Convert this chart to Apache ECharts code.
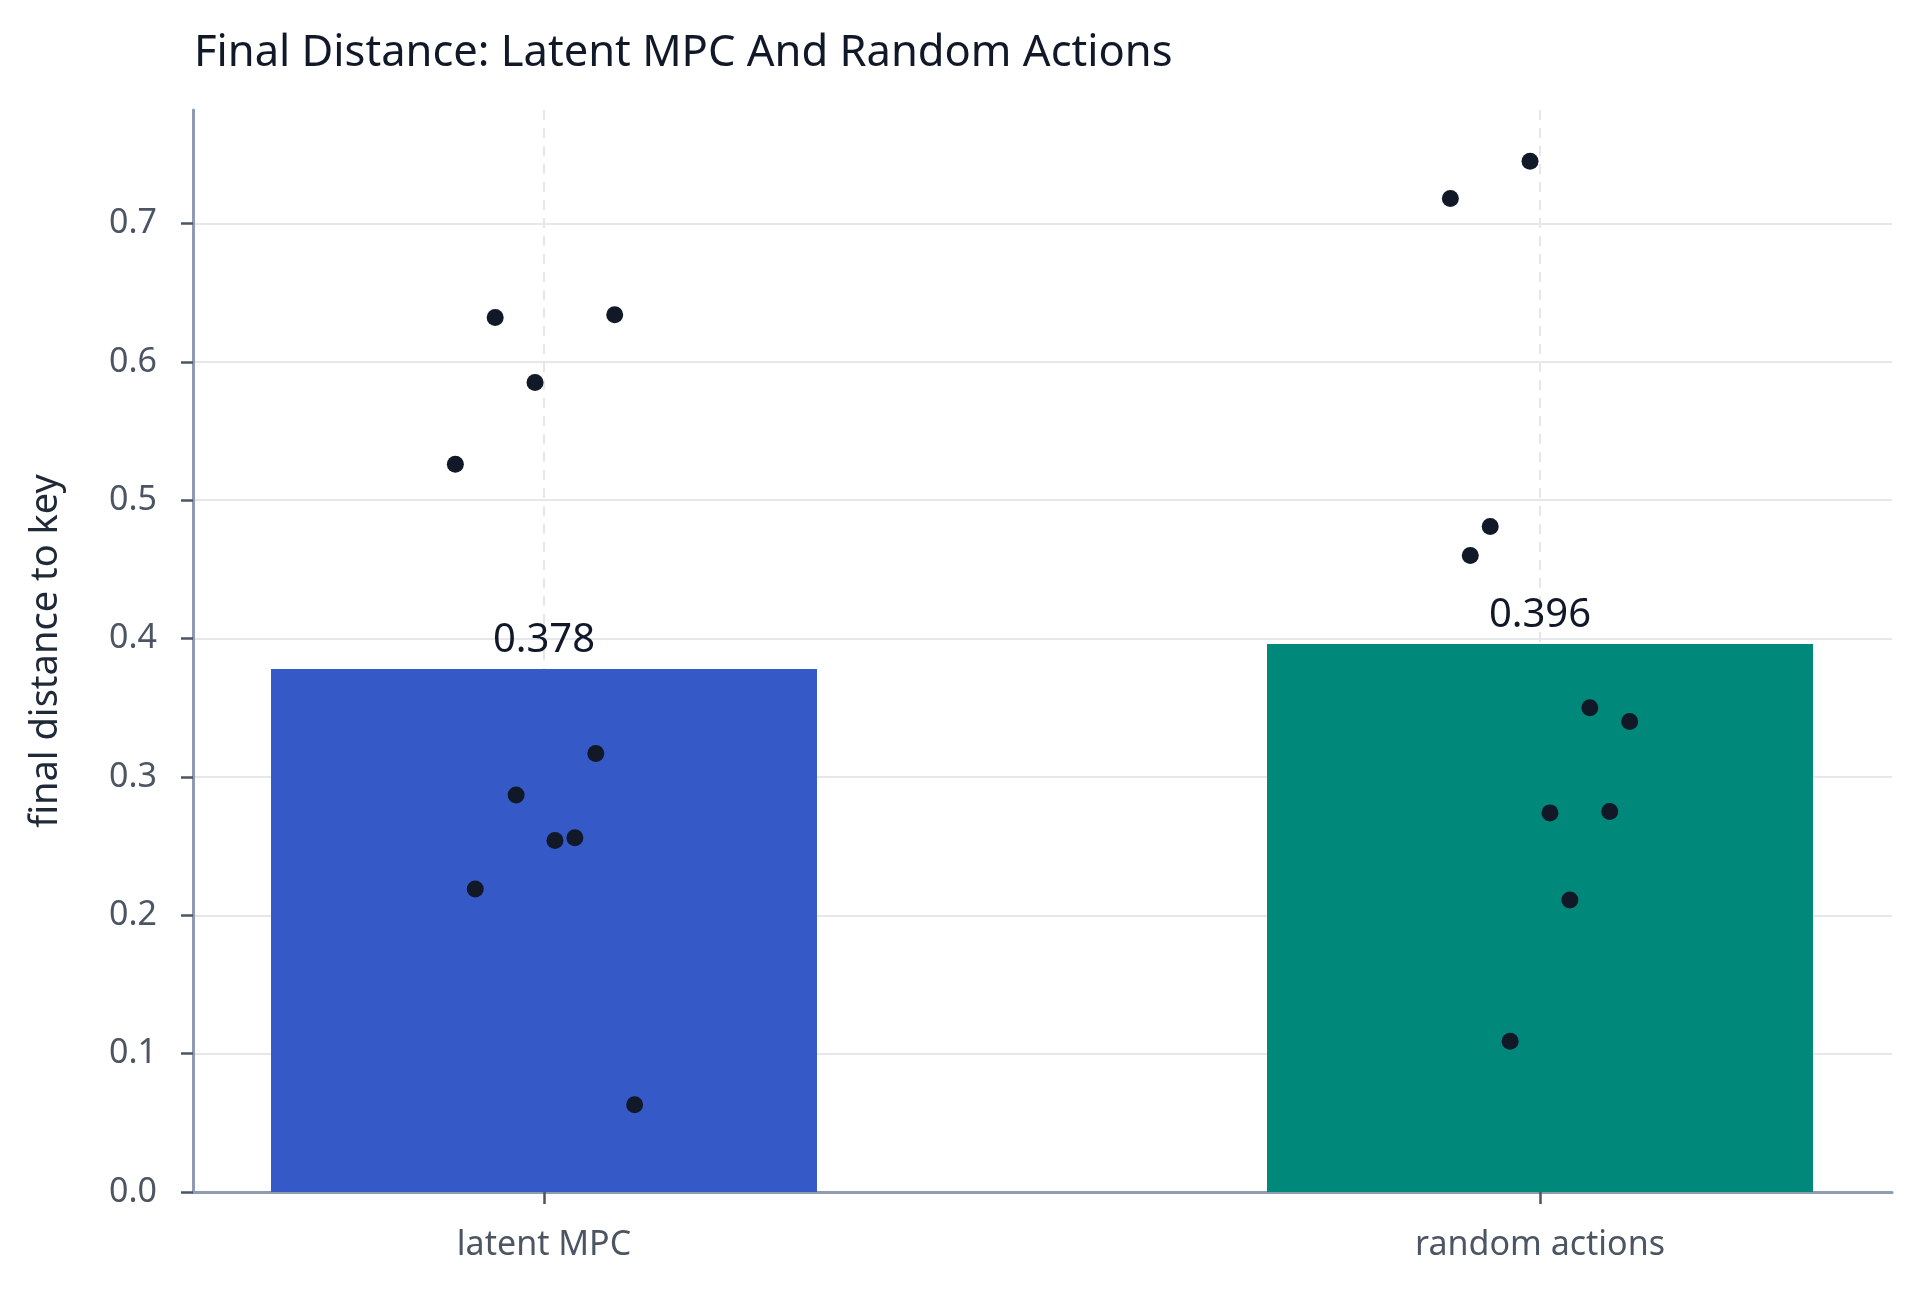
<!DOCTYPE html>
<html>
<head>
<meta charset="utf-8">
<script src="https://cdn.jsdelivr.net/npm/echarts@6/dist/echarts.min.js"></script>
<style>
  html, body { margin: 0; padding: 0; background: #fff; }
  #chart { width: 1920px; height: 1292px; }
</style>
</head>
<body>
<div id="chart"></div>
<script>
// data
var categories = ['latent MPC', 'random actions'];
var barMeans = [0.378, 0.396];
var barColors = ['#3659c8', '#00897b'];

var latentValues = [0.632, 0.634, 0.585, 0.526, 0.317, 0.287, 0.254, 0.256, 0.219, 0.063];
var latentJitter = [-0.049, 0.071, -0.009, -0.089, 0.052, -0.028, 0.011, 0.031, -0.069, 0.091];
var randomValues = [0.745, 0.718, 0.481, 0.460, 0.350, 0.340, 0.274, 0.275, 0.211, 0.109];
var randomJitter = [-0.010, -0.090, -0.050, -0.070, 0.050, 0.090, 0.010, 0.070, 0.030, -0.030];

var yTicks = [0, 0.1, 0.2, 0.3, 0.4, 0.5, 0.6, 0.7];

var font = 'Noto Sans';

function points(idx, vals, jit) {
    return vals.map(function (v, i) { return [idx + jit[i], v]; });
}

var dom = document.getElementById('chart');
var myChart = echarts.init(dom);

var option = {
    backgroundColor: '#ffffff',
    animation: false,
    title: {
        text: 'Final Distance: Latent MPC And Random Actions',
        left: 189,
        top: 27,
        textStyle: { fontFamily: font, fontSize: 43.5, fontWeight: 'normal', color: '#111827' }
    },
    grid: { left: 193, right: 28, top: 110, bottom: 100 },
    xAxis: {
        type: 'value',
        min: -0.3524,
        max: 1.3534,
        axisLine: { show: true, onZero: false, lineStyle: { color: '#8f9bb3', width: 3 } },
        axisTick: {
            show: true, length: 12, customValues: [0, 1],
            lineStyle: { color: '#4b5563', width: 2.5 }
        },
        axisLabel: {
            customValues: [0, 1],
            margin: 36,
            fontFamily: font, fontSize: 34, color: '#4b5563',
            formatter: function (v) { return categories[Math.round(v)]; }
        },
        splitLine: { show: true, lineStyle: { color: '#e5e7eb', width: 2, type: [10, 8] } }
    },
    yAxis: {
        type: 'value',
        min: 0,
        max: 0.782,
        name: 'final distance to key',
        nameLocation: 'middle',
        nameGap: 128,
        nameTextStyle: { fontFamily: font, fontSize: 38, color: '#1f2937' },
        axisLine: { show: true, onZero: false, lineStyle: { color: '#8f9bb3', width: 3 } },
        axisTick: {
            show: true, length: 12, customValues: yTicks,
            lineStyle: { color: '#4b5563', width: 2.5 }
        },
        axisLabel: {
            customValues: yTicks,
            margin: 36,
            fontFamily: font, fontSize: 34, color: '#4b5563',
            formatter: function (v) { return v.toFixed(1); }
        },
        splitLine: { show: true, lineStyle: { color: '#e5e7eb', width: 2 } }
    },
    series: [
        {
            type: 'bar',
            barWidth: 546,
            z: 1,
            data: barMeans.map(function (v, i) {
                return { value: [i, v], itemStyle: { color: barColors[i] } };
            }),
            label: {
                show: true,
                position: 'top',
                distance: 8,
                fontFamily: font, fontSize: 40, color: '#111827',
                formatter: function (p) { return p.value[1].toFixed(3); }
            }
        },
        {
            type: 'scatter',
            symbolSize: 17,
            z: 5,
            itemStyle: { color: '#111827', opacity: 1 },
            data: points(0, latentValues, latentJitter).concat(points(1, randomValues, randomJitter))
        }
    ]
};

myChart.setOption(option);
</script>
</body>
</html>
